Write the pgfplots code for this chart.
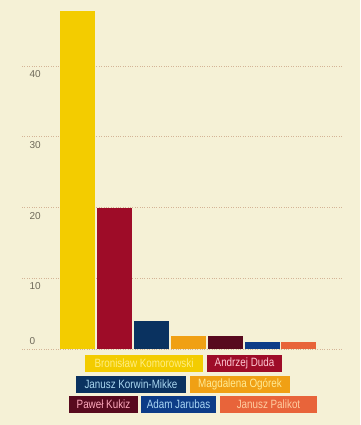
\documentclass[border=0pt]{standalone}
\usepackage{pgfplots}
\pgfplotsset{compat=1.18}
\usepackage{fontspec}
\setmainfont{Liberation Sans}
\newfontfamily\lgfont[FakeStretch=0.82]{Liberation Sans}
\definecolor{bg}{RGB}{245,241,214}
\definecolor{ckom}{RGB}{243,204,0}
\definecolor{cduda}{RGB}{158,12,40}
\definecolor{ckor}{RGB}{10,50,96}
\definecolor{cogo}{RGB}{240,160,20}
\definecolor{ckuk}{RGB}{88,10,30}
\definecolor{cjar}{RGB}{12,60,135}
\definecolor{cpal}{RGB}{232,100,58}
\definecolor{gridc}{RGB}{212,180,150}
\definecolor{tickc}{RGB}{110,105,90}
\begin{document}
\begin{tikzpicture}[x=1pt,y=1pt]
\fill[bg] (0,0) rectangle (360,425);
\begin{axis}[
  at={(22pt,76pt)}, anchor=south west,
  scale only axis, width=321pt, height=346.7pt,
  xmin=-1.52, xmax=7.2, ymin=0, ymax=49,
  xtick=\empty,
  ytick={10,20,30,40},
  extra y ticks={0},
  extra y tick style={yticklabel style={anchor=south west, yshift=2pt}},
  ymajorgrids,
  grid style={gridc, dotted, line width=0.9pt},
  axis line style={draw=none},
  major tick length=0pt,
  /pgf/number format/assume math mode=true,
  yticklabel style={anchor=north west, xshift=4pt, yshift=-1pt, font=\fontsize{10}{12}\selectfont, text=tickc},
  ybar, bar width=35pt,
  every axis plot/.append style={bar shift=0pt, draw=none},
]
\addplot[fill=ckom] coordinates {(0,47.8)};
\addplot[fill=cduda] coordinates {(1,19.9)};
\addplot[fill=ckor] coordinates {(2,3.9)};
\addplot[fill=cogo] coordinates {(3,1.9)};
\addplot[fill=ckuk] coordinates {(4,1.9)};
\addplot[fill=cjar] coordinates {(5,1.0)};
\addplot[fill=cpal] coordinates {(6,1.0)};
\end{axis}
\tikzset{lg/.style={inner sep=0pt, minimum height=17pt, font=\lgfont\fontsize{12}{13}\selectfont}}
\node[lg, fill=ckom, minimum width=118pt, text={rgb,255:red,255;green,238;blue,130}] at (144,61.5) {Bronisław Komorowski};
\node[lg, fill=cduda, minimum width=75pt, text={rgb,255:red,255;green,200;blue,210}] at (244.5,61.5) {Andrzej Duda};
\node[lg, fill=ckor, minimum width=110pt, text={rgb,255:red,170;green,215;blue,240}] at (131,40.5) {Janusz Korwin-Mikke};
\node[lg, fill=cogo, minimum width=100pt, text={rgb,255:red,255;green,235;blue,150}] at (240,40.5) {Magdalena Ogórek};
\node[lg, fill=ckuk, minimum width=69pt, text={rgb,255:red,255;green,170;blue,190}] at (103.5,20.5) {Paweł Kukiz};
\node[lg, fill=cjar, minimum width=75pt, text={rgb,255:red,170;green,215;blue,245}] at (178.5,20.5) {Adam Jarubas};
\node[lg, fill=cpal, minimum width=97pt, text={rgb,255:red,255;green,205;blue,160}] at (268.5,20.5) {Janusz Palikot};
\end{tikzpicture}
\end{document}
